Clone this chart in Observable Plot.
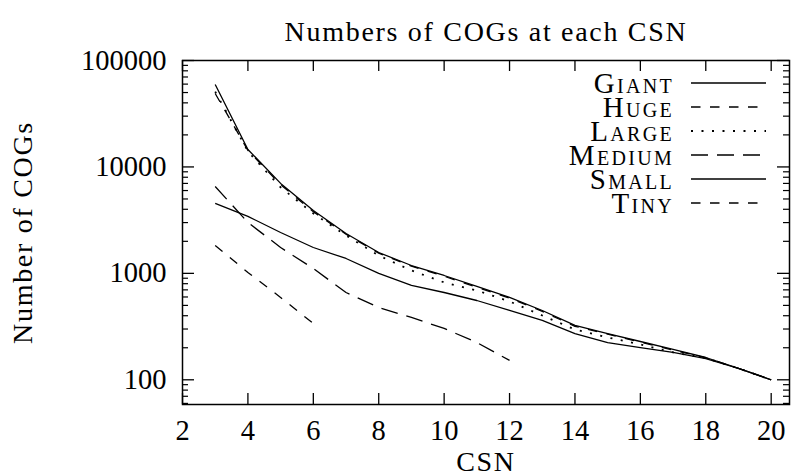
<!DOCTYPE html>
<html><head><meta charset="utf-8">
<script src="https://cdn.jsdelivr.net/npm/d3@7"></script>
<script src="https://cdn.jsdelivr.net/npm/@observablehq/plot@0.6"></script>
<style>
body{margin:0;background:#fff;}
#wrap{position:relative;width:794px;height:476px;overflow:hidden;}
#wrap svg text{font-family:"Liberation Serif",serif;}
.lbl{letter-spacing:1.7px;}
#legend{position:absolute;left:0;top:0;pointer-events:none;}
</style></head><body><div id="wrap"></div>
<script>
// ---- data ----
const csnFull = [3,4,5,6,7,8,9,10,11,12,13,14,15,16,17,18,19,20];
const giant  = [59600,14600,7000,3900,2370,1570,1185,955,753,594,448,324,272,229,193,162,128,100];
const huge   = [49000,14300,6800,3800,2330,1550,1170,940,740,585,440,318,268,226,190,161,128,100];
const large  = [51000,14000,6420,3660,2270,1470,1065,822,691,545,402,297,250,215,181,160,128,100];
const csnMedium = [3,4,5,6,7,8,9,10,11,12];
const medium = [6540,3010,1750,1110,661,478,385,304,224,152];
const small  = [4540,3430,2420,1750,1380,998,770,661,556,448,361,272,224,201,181,158,128,100];
const csnTiny = [3,4,5,6];
const tiny   = [1830,1020,594,338];

const seriesNames = ["Giant","Huge","Large","Medium","Small","Tiny"];
const xTicks = [2,4,6,8,10,12,14,16,18,20];
const yMajor = [100,1000,10000,100000];
const yMinor = [60,70,80,90,200,300,400,500,600,700,800,900,2000,3000,4000,5000,6000,7000,8000,9000,20000,30000,40000,50000,60000,70000,80000,90000];

const title = "Numbers of COGs at each CSN";
const xLabel = "CSN";
const yLabel = "Number of COGs";

// ---- styles per series ----
const dash = {Giant:null, Huge:"9.5,9.5", Large:"2,8.5", Medium:"17,9", Small:null, Tiny:"9.5,9.5"};
const sw = {Giant:1.3, Huge:1.3, Large:1.8, Medium:1.3, Small:1.3, Tiny:1.3};

const toRows = (name, xs, ys) => xs.map((x,i)=>({series:name, csn:x, v:ys[i]}));
const data = {
  Giant: toRows("Giant", csnFull, giant),
  Huge: toRows("Huge", csnFull, huge),
  Large: toRows("Large", csnFull, large),
  Medium: toRows("Medium", csnMedium, medium),
  Small: toRows("Small", csnFull, small),
  Tiny: toRows("Tiny", csnTiny, tiny)
};

const W = 794, H = 476, mL = 182, mR = 5, mT = 60, mB = 72;
const fw = W - mL - mR, fh = H - mT - mB;

const lineMarks = seriesNames.map(n => Plot.line(data[n], {
  x: "csn", y: "v", stroke: "black", strokeWidth: sw[n],
  strokeDasharray: dash[n] || undefined, strokeLinecap: "butt"
}));

const chart = Plot.plot({
  width: W, height: H,
  marginLeft: mL, marginRight: mR, marginTop: mT, marginBottom: mB,
  style: {fontFamily: '"Liberation Serif", serif', fontSize: "28px", background: "#fff", color: "#000", overflow: "visible"},
  x: {domain: [2, 20.56]},
  y: {type: "log", domain: [58.6, 100000]},
  marks: [
    // tick labels
    Plot.axisX(xTicks, {anchor: "bottom", tickSize: 0, tickPadding: 15, label: null, fontSize: 28.5, tickFormat: d => String(d)}),
    Plot.axisY(yMajor, {anchor: "left", tickSize: 0, tickPadding: 16, label: null, fontSize: 28.5, tickFormat: d => String(d)}),
    // inward ticks, mirrored (gnuplot style)
    Plot.ruleX(xTicks, {x: d => d, insetTop: fh - 11, stroke: "black", strokeWidth: 1.3}),
    Plot.ruleX(xTicks, {x: d => d, insetBottom: fh - 11, stroke: "black", strokeWidth: 1.3}),
    Plot.ruleY(yMajor, {y: d => d, insetRight: fw - 12, stroke: "black", strokeWidth: 1.3}),
    Plot.ruleY(yMajor, {y: d => d, insetLeft: fw - 12, stroke: "black", strokeWidth: 1.3}),
    Plot.ruleY(yMinor, {y: d => d, insetRight: fw - 6, stroke: "black", strokeWidth: 1.2}),
    Plot.ruleY(yMinor, {y: d => d, insetLeft: fw - 6, stroke: "black", strokeWidth: 1.2}),
    Plot.frame({stroke: "black", strokeWidth: 1.5}),
    ...lineMarks,
    // titles
    Plot.text([title], {frameAnchor: "top", text: d => d, dy: -20, lineAnchor: "bottom", fontSize: 28, className: "lbl"}),
    Plot.text([xLabel], {frameAnchor: "bottom", text: d => d, dy: 66, lineAnchor: "bottom", fontSize: 28, className: "lbl"}),
    Plot.text([yLabel], {frameAnchor: "left", text: d => d, dx: -159, rotate: -90, textAnchor: "middle", lineAnchor: "middle", fontSize: 28, className: "lbl"})
  ]
});
document.getElementById("wrap").appendChild(chart);

// ---- legend (top right, inside the frame) ----
const lg = d3.select("#wrap").append("svg").attr("id","legend").attr("width", W).attr("height", H);
const rowY0 = 83, rowStep = 24, textRight = 674, sx1 = 691, sx2 = 766;
seriesNames.forEach((n, i) => {
  const cy = rowY0 + i * rowStep;
  lg.append("text").attr("x", textRight).attr("y", cy + 10)
    .attr("text-anchor", "end").attr("font-size", 29)
    .attr("font-variant", "small-caps").style("letter-spacing", "2.3px")
    .text(n);
  const l = lg.append("line").attr("x1", sx1).attr("x2", sx2).attr("y1", cy).attr("y2", cy)
    .attr("stroke", "black").attr("stroke-width", sw[n]);
  if (dash[n]) l.attr("stroke-dasharray", dash[n]);
});
</script></body></html>
